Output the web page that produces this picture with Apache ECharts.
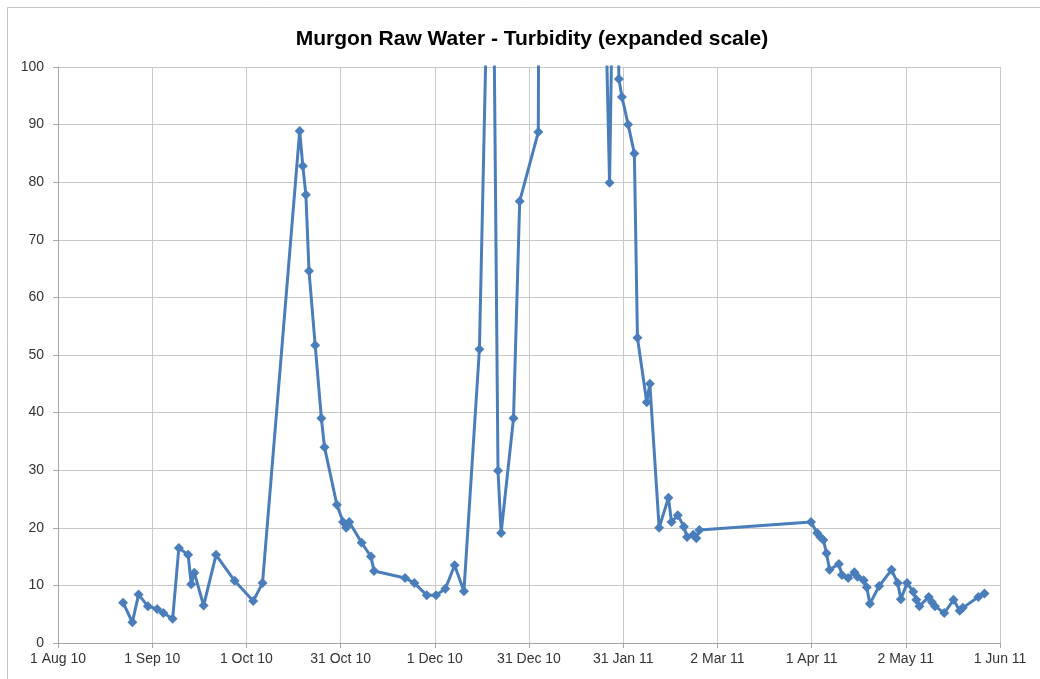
<!DOCTYPE html>
<html>
<head>
<meta charset="utf-8">
<script src="https://cdn.jsdelivr.net/npm/echarts@6/dist/echarts.min.js"></script>
<style>
html,body{margin:0;padding:0;background:#fff;}
#chart{width:1040px;height:679px;}
</style>
</head>
<body>
<div id="chart"></div>
<script>
// Axis origin (first tick) and tick labels
const startDate = '2010-08-01';
const tickLabels = ['1 Aug 10','1 Sep 10','1 Oct 10','31 Oct 10','1 Dec 10','31 Dec 10','31 Jan 11','2 Mar 11','1 Apr 11','2 May 11','1 Jun 11'];
const yTicks = [0,10,20,30,40,50,60,70,80,90,100];

// Sample dates and turbidity readings (values above 100 run off the expanded scale; estimated)
const dates = [
 '2010-08-22','2010-08-25','2010-08-27','2010-08-30','2010-09-02','2010-09-04','2010-09-07','2010-09-09',
 '2010-09-12','2010-09-13','2010-09-14','2010-09-17','2010-09-21','2010-09-27','2010-10-03','2010-10-06',
 '2010-10-18','2010-10-19','2010-10-20','2010-10-21','2010-10-23','2010-10-25','2010-10-26','2010-10-30',
 '2010-11-01','2010-11-02','2010-11-03','2010-11-07','2010-11-10','2010-11-11','2010-11-21','2010-11-24',
 '2010-11-28','2010-12-01','2010-12-04','2010-12-07','2010-12-10','2010-12-15','2010-12-19','2010-12-21',
 '2010-12-22','2010-12-26','2010-12-28','2011-01-03','2011-01-04','2011-01-13','2011-01-21','2011-01-26',
 '2011-01-28','2011-01-29','2011-01-30','2011-02-01','2011-02-03','2011-02-04','2011-02-07','2011-02-08',
 '2011-02-11','2011-02-14','2011-02-15','2011-02-17','2011-02-19','2011-02-20','2011-02-22','2011-02-23',
 '2011-02-24','2011-04-01','2011-04-03','2011-04-04','2011-04-05','2011-04-06','2011-04-07','2011-04-10',
 '2011-04-11','2011-04-13','2011-04-15','2011-04-16','2011-04-18','2011-04-19','2011-04-20','2011-04-23',
 '2011-04-27','2011-04-29','2011-04-30','2011-05-02','2011-05-04','2011-05-05','2011-05-06','2011-05-09',
 '2011-05-10','2011-05-11','2011-05-14','2011-05-17','2011-05-19','2011-05-20','2011-05-25','2011-05-27'
];
const turbidity = [
 7.0,3.6,8.4,6.4,5.9,5.2,4.2,16.5,
 15.3,10.2,12.2,6.5,15.3,10.8,7.3,10.4,
 88.9,82.8,77.8,64.6,51.7,39.0,34.0,24.0,
 21.0,20.0,21.0,17.4,15.0,12.5,11.3,10.4,
 8.3,8.3,9.4,13.5,9.0,51.0,150,29.9,
 19.1,39.0,76.7,88.7,250,300,200,79.9,
 150,97.9,94.8,90.0,85.0,53.0,41.8,45.0,
 20.0,25.2,21.0,22.2,20.2,18.4,18.8,18.2,
 19.6,21.0,19.1,18.4,17.9,15.6,12.7,13.7,
 11.8,11.3,12.3,11.5,10.9,9.7,6.8,9.9,
 12.7,10.4,7.6,10.4,8.9,7.5,6.4,8.0,
 7.1,6.4,5.2,7.5,5.6,6.1,8.0,8.6
];

const DAY = 86400000;
const t0 = Date.parse(startDate + 'T00:00:00Z');
const dayOf = s => Math.round((Date.parse(s + 'T00:00:00Z') - t0) / DAY);
const endDay = dayOf('2011-06-01');
const step = endDay / (tickLabels.length - 1);
const seriesData = dates.map((d, i) => [dayOf(d), turbidity[i]]);

const chart = echarts.init(document.getElementById('chart'), null, {renderer: 'canvas'});
const font = 'Liberation Sans, Arial, sans-serif';
chart.setOption({
  animation: false,
  backgroundColor: '#ffffff',
  title: {
    text: 'Murgon Raw Water - Turbidity (expanded scale)',
    left: 527, top: 24, textAlign: 'center',
    textStyle: {fontFamily: font, fontSize: 21, fontWeight: 'bold', color: '#000'}
  },
  graphic: [{
    type: 'rect', silent: true,
    shape: {x: 7.5, y: 7.5, width: 1100, height: 1000},
    style: {fill: 'none', stroke: '#c4c4c4', lineWidth: 1}
  }],
  grid: {left: 58, right: 40, top: 67, bottom: 36, containLabel: false},
  xAxis: {
    type: 'value', min: 0, max: endDay, interval: step,
    axisLine: {show: true, lineStyle: {color: '#a6a6a6', width: 1}},
    axisTick: {show: true, length: 5, lineStyle: {color: '#a6a6a6'}},
    splitLine: {show: true, lineStyle: {color: '#c8c8c8', width: 1}},
    axisLabel: {
      fontFamily: font, fontSize: 14, color: '#333', margin: 9,
      showMinLabel: true, showMaxLabel: true,
      formatter: v => tickLabels[Math.round(v / step)] || ''
    }
  },
  yAxis: {
    type: 'value', min: yTicks[0], max: yTicks[yTicks.length - 1], interval: yTicks[1] - yTicks[0],
    axisLine: {show: true, lineStyle: {color: '#a6a6a6', width: 1}},
    axisTick: {show: true, length: 5, lineStyle: {color: '#a6a6a6'}},
    splitLine: {show: true, lineStyle: {color: '#c8c8c8', width: 1}},
    axisLabel: {fontFamily: font, fontSize: 14, color: '#333', margin: 14}
  },
  series: [{
    type: 'line',
    data: seriesData,
    clip: true,
    symbol: 'diamond',
    symbolSize: 10,
    showAllSymbol: true,
    lineStyle: {color: '#4a7ebb', width: 3},
    itemStyle: {color: '#4a7ebb'}
  }]
});
</script>
</body>
</html>
